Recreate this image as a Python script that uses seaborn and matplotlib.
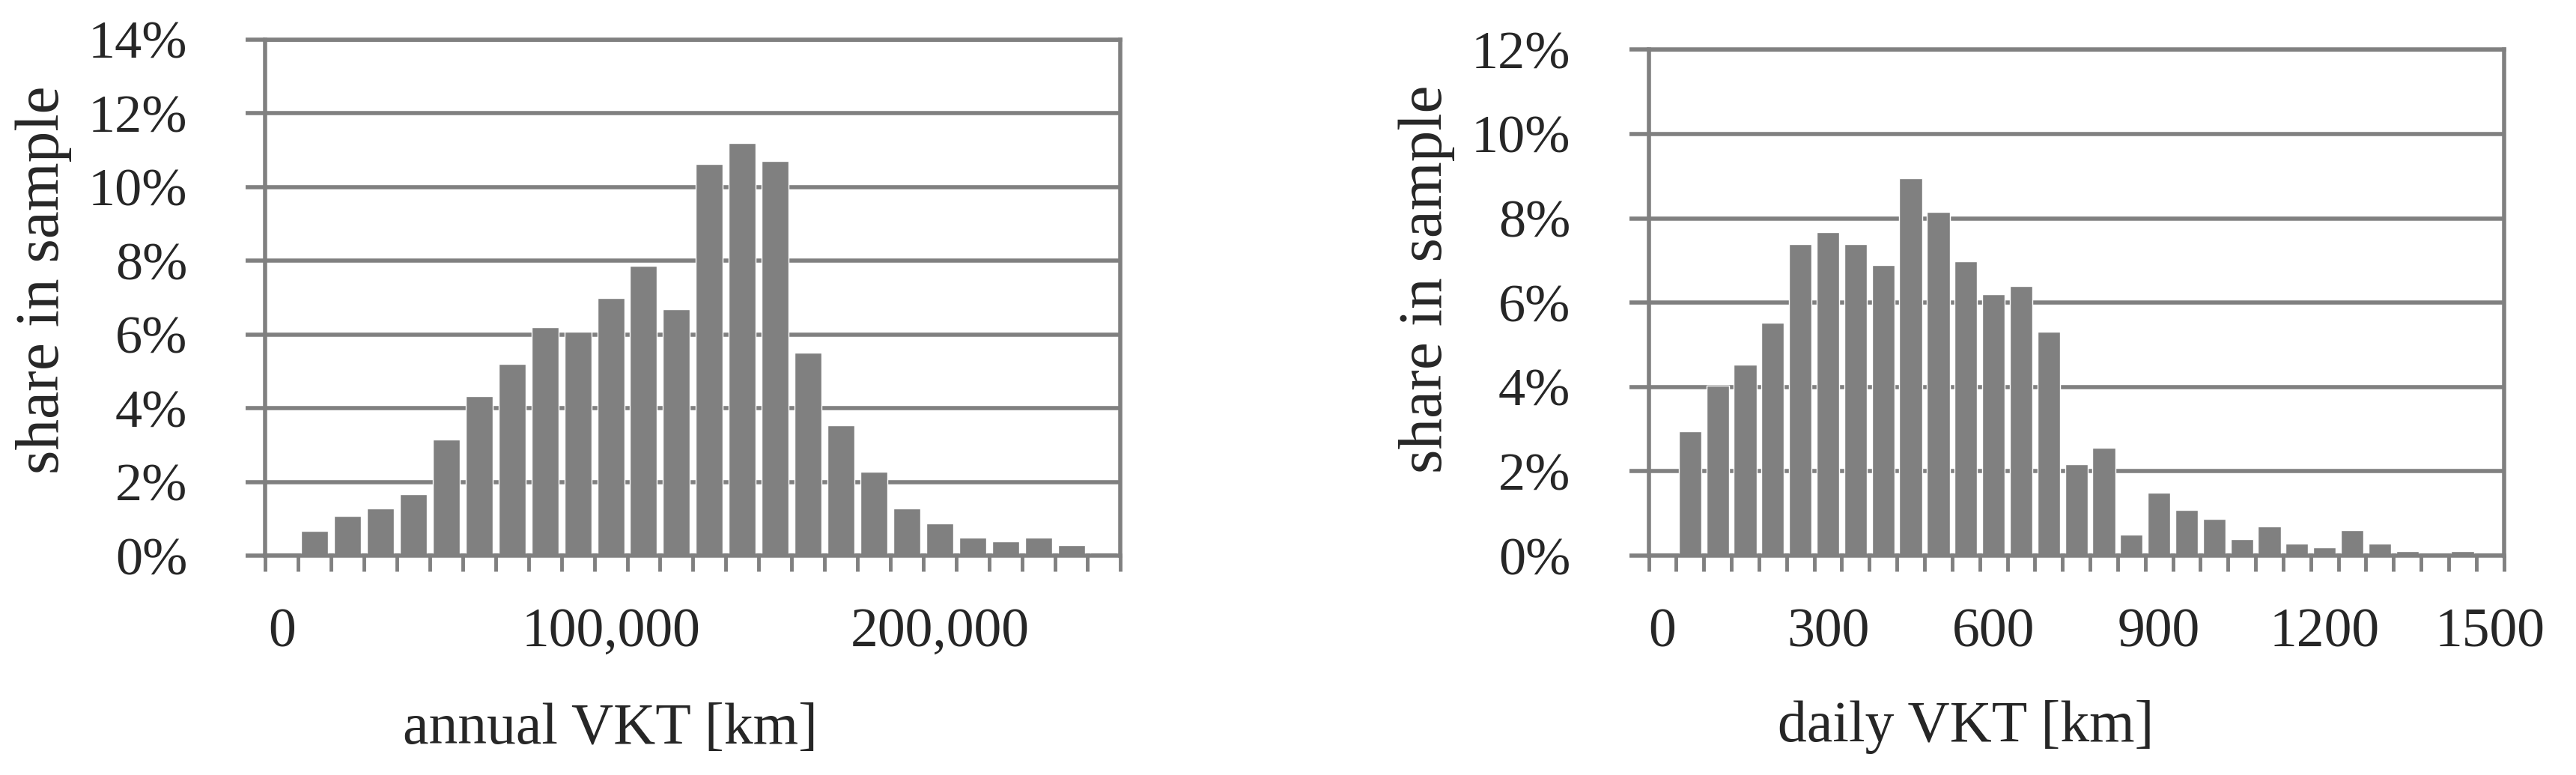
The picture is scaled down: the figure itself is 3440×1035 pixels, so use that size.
import matplotlib
matplotlib.use("Agg")
import matplotlib.pyplot as plt
import seaborn as sns
import pandas as pd
from matplotlib.ticker import MultipleLocator, FuncFormatter, FixedLocator

# annual VKT histogram (bins of 10,000 km)
annual_km = [0, 10000, 20000, 30000, 40000, 50000, 60000, 70000, 80000, 90000,
             100000, 110000, 120000, 130000, 140000, 150000, 160000, 170000,
             180000, 190000, 200000, 210000, 220000, 230000, 240000, 250000]
annual_share = [0.0, 0.67, 1.08, 1.28, 1.67, 3.14, 4.33, 5.21, 6.19, 6.08,
                6.99, 7.86, 6.68, 10.63, 11.19, 10.71, 5.51, 3.53, 2.27, 1.28,
                0.87, 0.49, 0.39, 0.49, 0.28, 0.09]
annual_ticks = [0, 100000, 200000]
annual_tick_labels = ["0", "100,000", "200,000"]

# daily VKT histogram (bins of 50 km)
daily_km = [0, 50, 100, 150, 200, 250, 300, 350, 400, 450, 500, 550, 600, 650,
            700, 750, 800, 850, 900, 950, 1000, 1050, 1100, 1150, 1200, 1250,
            1300, 1350, 1400, 1450, 1500]
daily_share = [0.0, 2.95, 4.04, 4.53, 5.52, 7.38, 7.68, 7.38, 6.89, 8.95, 8.16,
               6.98, 6.19, 6.39, 5.31, 2.17, 2.56, 0.49, 1.49, 1.09, 0.88, 0.40,
               0.69, 0.29, 0.20, 0.60, 0.29, 0.10, 0.0, 0.10, 0.0]
daily_ticks = [0, 300, 600, 900, 1200, 1500]
daily_tick_labels = ["0", "300", "600", "900", "1200", "1500"]

GRAY = "#808080"

sns.set_style("white")
plt.rcParams['font.family'] = ['Liberation Serif', 'DejaVu Serif']


def draw_hist(ax, bins, share, ticks, tick_labels, ymax, xlabel, xlabel_x, ylabel_y):
    df = pd.DataFrame({"bin": bins, "share": share})
    sns.barplot(data=df, x="bin", y="share", order=bins, color=GRAY,
                saturation=1, width=0.82, ax=ax)
    n = len(bins)
    ax.set_xlim(-0.5, n - 0.5)
    ax.set_ylim(0, ymax)

    ax.yaxis.set_major_locator(MultipleLocator(2))
    ax.yaxis.set_major_formatter(FuncFormatter(lambda v, p: f"{v:.0f}%"))
    ax.yaxis.grid(True, color=GRAY, linewidth=4)
    ax.set_axisbelow(True)

    ax.xaxis.set_major_locator(FixedLocator([bins.index(t) for t in ticks]))
    ax.set_xticklabels(tick_labels)
    ax.xaxis.set_minor_locator(FixedLocator([k - 0.5 for k in range(n + 1)]))

    ax.tick_params(axis="y", which="major", left=True, direction="out",
                   length=19, width=4, color=GRAY, pad=56, labelsize=52)
    ax.tick_params(axis="x", which="major", bottom=True, length=0, pad=50,
                   labelsize=53)
    ax.tick_params(axis="x", which="minor", bottom=True, direction="out",
                   length=15, width=3.5, color=GRAY)

    for side in ["left", "right", "top", "bottom"]:
        ax.spines[side].set_visible(True)
        ax.spines[side].set_color(GRAY)
        ax.spines[side].set_linewidth(4)

    ax.set_xlabel(xlabel, fontsize=56)
    ax.set_ylabel("share in sample", fontsize=60)
    ax.xaxis.set_label_coords(xlabel_x, -0.285)
    ax.yaxis.set_label_coords(-0.226, ylabel_y)


fig = plt.figure(figsize=(34.4, 10.35), dpi=100)
ax1 = fig.add_axes([0.103, 0.283, 0.332, 0.666])
ax2 = fig.add_axes([0.640, 0.283, 0.332, 0.653])

draw_hist(ax1, annual_km, annual_share, annual_ticks, annual_tick_labels,
          14, "annual VKT [km]", 0.403, 0.535)
draw_hist(ax2, daily_km, daily_share, daily_ticks, daily_tick_labels,
          12, "daily VKT [km]", 0.371, 0.546)

fig.savefig("out.png", dpi=100, facecolor="white")
